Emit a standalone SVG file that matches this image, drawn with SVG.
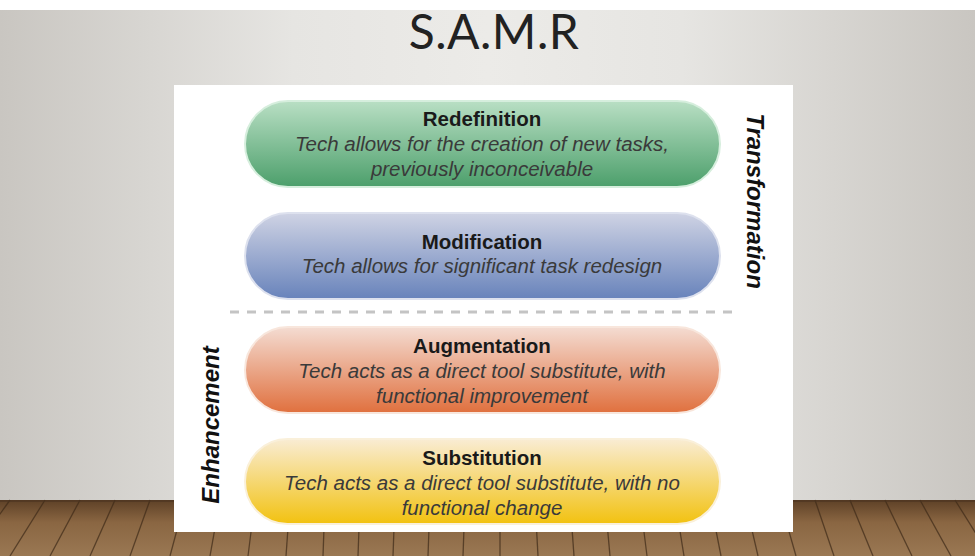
<svg xmlns="http://www.w3.org/2000/svg" width="975" height="556" viewBox="0 0 975 556">
<defs>
<linearGradient id="bg" x1="0" y1="0" x2="1" y2="0">
<stop offset="0" stop-color="#c9c6c1"/>
<stop offset="0.3" stop-color="#e6e5e2"/>
<stop offset="0.5" stop-color="#ecebe8"/>
<stop offset="0.7" stop-color="#e6e5e2"/>
<stop offset="1" stop-color="#c9c6c1"/>
</linearGradient>
<linearGradient id="floor" x1="0" y1="0" x2="0" y2="1">
<stop offset="0" stop-color="#5e4127"/>
<stop offset="0.4" stop-color="#8a6642"/>
<stop offset="1" stop-color="#9a7853"/>
</linearGradient>
<linearGradient id="gGreen" x1="0" y1="0" x2="0" y2="1">
<stop offset="0" stop-color="#b9dfc4"/>
<stop offset="1" stop-color="#4c9f6b"/>
</linearGradient>
<linearGradient id="gBlue" x1="0" y1="0" x2="0" y2="1">
<stop offset="0" stop-color="#cfd3e4"/>
<stop offset="1" stop-color="#6883bb"/>
</linearGradient>
<linearGradient id="gOrange" x1="0" y1="0" x2="0" y2="1">
<stop offset="0" stop-color="#f4dcd2"/>
<stop offset="1" stop-color="#e0703e"/>
</linearGradient>
<linearGradient id="gYellow" x1="0" y1="0" x2="0" y2="1">
<stop offset="0" stop-color="#f9ecd4"/>
<stop offset="1" stop-color="#f2c210"/>
</linearGradient>
</defs>
<style>
.ttl{font-family:"Liberation Sans",Arial,sans-serif;font-weight:bold;font-size:20.5px;fill:#1a1a1a;text-anchor:middle}
.dsc{font-family:"Liberation Sans",Arial,sans-serif;font-style:italic;font-size:20.5px;fill:#3a3a3a;text-anchor:middle}
.side{font-family:"Liberation Sans",Arial,sans-serif;font-weight:bold;font-style:italic;font-size:24px;fill:#111;text-anchor:middle}
.plank{stroke:#3e2a18;stroke-width:1.3;opacity:0.7}
.pill{stroke-width:2}
</style>
<rect x="0" y="0" width="975" height="556" fill="#ffffff"/>
<rect x="0" y="10" width="975" height="492" fill="url(#bg)"/>
<rect x="0" y="500" width="975" height="56" fill="url(#floor)"/>
<g id="floor-planks">
<line class="plank" x1="10" y1="500" x2="-30" y2="556"/>
<line class="plank" x1="45" y1="500" x2="10" y2="556"/>
<line class="plank" x1="80" y1="500" x2="50" y2="556"/>
<line class="plank" x1="115" y1="500" x2="90" y2="556"/>
<line class="plank" x1="150" y1="500" x2="130" y2="556"/>
<line class="plank" x1="185" y1="500" x2="170" y2="556"/>
<line class="plank" x1="220" y1="500" x2="210" y2="556"/>
<line class="plank" x1="255" y1="500" x2="248" y2="556"/>
<line class="plank" x1="290" y1="500" x2="286" y2="556"/>
<line class="plank" x1="325" y1="500" x2="323" y2="556"/>
<line class="plank" x1="360" y1="500" x2="358" y2="556"/>
<line class="plank" x1="395" y1="500" x2="393" y2="556"/>
<line class="plank" x1="430" y1="500" x2="428" y2="556"/>
<line class="plank" x1="465" y1="500" x2="463" y2="556"/>
<line class="plank" x1="500" y1="500" x2="500" y2="556"/>
<line class="plank" x1="535" y1="500" x2="538" y2="556"/>
<line class="plank" x1="570" y1="500" x2="574" y2="556"/>
<line class="plank" x1="605" y1="500" x2="610" y2="556"/>
<line class="plank" x1="640" y1="500" x2="647" y2="556"/>
<line class="plank" x1="675" y1="500" x2="684" y2="556"/>
<line class="plank" x1="710" y1="500" x2="721" y2="556"/>
<line class="plank" x1="745" y1="500" x2="758" y2="556"/>
<line class="plank" x1="780" y1="500" x2="796" y2="556"/>
<line class="plank" x1="815" y1="500" x2="834" y2="556"/>
<line class="plank" x1="850" y1="500" x2="873" y2="556"/>
<line class="plank" x1="885" y1="500" x2="912" y2="556"/>
<line class="plank" x1="920" y1="500" x2="951" y2="556"/>
<line class="plank" x1="955" y1="500" x2="990" y2="556"/>
<line x1="0" y1="501" x2="975" y2="501" stroke="#4a3320" stroke-width="2" opacity="0.6"/>
</g>
<text id="title" x="494" y="49" font-family="Lato,'Open Sans',sans-serif" font-size="48" fill="#222" text-anchor="middle" letter-spacing="0.5">S.A.M.R</text>
<rect id="panel" x="174" y="85" width="619" height="447" fill="#ffffff"/>
<g id="connectors">
<line x1="230" y1="312" x2="737" y2="312" stroke="#c4c4c4" stroke-width="3" stroke-dasharray="9 8"/>
</g>
<g id="redefinition">
<rect class="pill" x="245" y="101" width="475" height="86" rx="43" fill="url(#gGreen)" stroke="#d6eedd"/>
<text class="ttl" x="482" y="126">Redefinition</text>
<text class="dsc" x="482" y="151">Tech allows for the creation of new tasks,</text>
<text class="dsc" x="482" y="176">previously inconceivable</text>
</g>
<g id="modification">
<rect class="pill" x="245" y="213" width="475" height="86" rx="43" fill="url(#gBlue)" stroke="#dde1ee"/>
<text class="ttl" x="482" y="249">Modification</text>
<text class="dsc" x="482" y="273">Tech allows for significant task redesign</text>
</g>
<g id="augmentation">
<rect class="pill" x="245" y="327" width="475" height="86" rx="43" fill="url(#gOrange)" stroke="#f8e6dc"/>
<text class="ttl" x="482" y="353">Augmentation</text>
<text class="dsc" x="482" y="378">Tech acts as a direct tool substitute, with</text>
<text class="dsc" x="482" y="403">functional improvement</text>
</g>
<g id="substitution">
<rect class="pill" x="245" y="439" width="475" height="85" rx="42.5" fill="url(#gYellow)" stroke="#faf0da"/>
<text class="ttl" x="482" y="465">Substitution</text>
<text class="dsc" x="482" y="490">Tech acts as a direct tool substitute, with no</text>
<text class="dsc" x="482" y="515">functional change</text>
</g>
<g id="transformation-label">
<text class="side" transform="translate(747,201) rotate(90)">Transformation</text>
</g>
<g id="enhancement-label">
<text class="side" transform="translate(219,425) rotate(-90)">Enhancement</text>
</g>
</svg>
